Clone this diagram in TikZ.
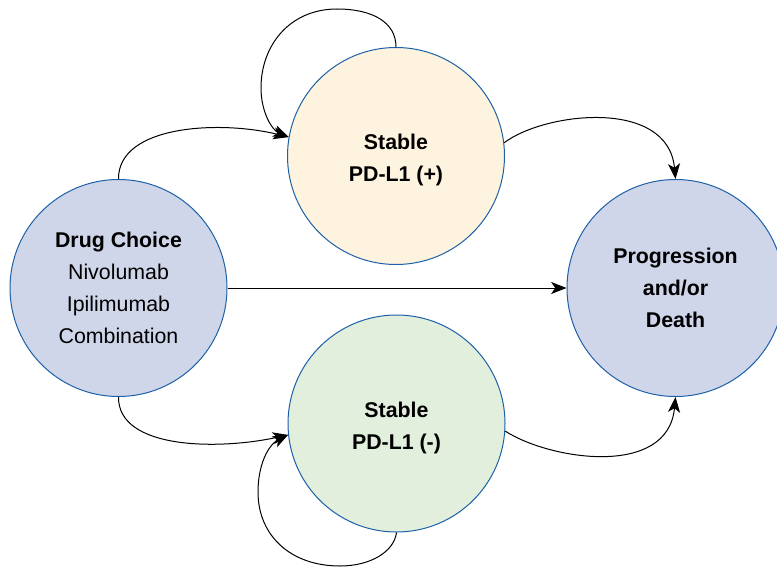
\documentclass[tikz,border=0pt]{standalone}
\usepackage{fontspec}
\setmainfont{Liberation Sans}
\usetikzlibrary{arrows.meta}
\definecolor{rim}{RGB}{28,96,168}
\definecolor{bluefill}{RGB}{208,214,233}
\definecolor{creamfill}{RGB}{254,243,222}
\definecolor{greenfill}{RGB}{226,239,220}

\begin{document}
\begin{tikzpicture}[x=0.75pt,y=-0.75pt,line width=0.75pt,
    >={Stealth[length=11.5pt,width=9pt,inset=3pt]}]
    \tikzstyle{state}=[circle,draw=rim,minimum size=162.75pt,inner sep=0pt,
        align=center,font=\fontsize{16}{24}\selectfont]
    \tikzstyle{start state}=[state, fill=bluefill];
    \tikzstyle{plus state}=[state, fill=creamfill];
    \tikzstyle{minus state}=[state, fill=greenfill];
    \tikzstyle{end state}=[state, fill=bluefill];
    \tikzstyle{move}=[->,draw=black]

    \useasboundingbox (0,0) rectangle (777,567);

    % Draw the states
    \node[start state] (D) at (118.5,288) {\textbf{Drug Choice}\\Nivolumab\\Ipilimumab\\Combination};
    \node[plus state] (Sp) at (396,156) {\rule{0pt}{18pt}\textbf{Stable}\\\textbf{PD-L1 (+)}};
    \node[minus state] (Sm) at (396.5,423.5) {\rule{0pt}{18pt}\textbf{Stable}\\\textbf{PD-L1 (-)}};
    \node[end state] (P) at (675.5,288) {\textbf{Progression}\\\textbf{and/or}\\\textbf{Death}};

    % Drug choice to the stable states
    \draw[move] (D.north) .. controls (118,125) and (220,120) .. (Sp.170);
    \draw[move] (D.south) .. controls (118,450) and (220,450) .. (Sm.186);
    \path[move] (D) edge (P);

    % Staying stable
    \draw[move] (Sp.north) .. controls (396,22) and (372,9) .. (337,9)
        .. controls (290,9) and (261,45) .. (261,88)
        .. controls (261,112) and (272,130) .. (Sp.170);
    \draw[move] (Sm.south) .. controls (394,552) and (370,566) .. (340,566)
        .. controls (290,566) and (258,535) .. (258,492)
        .. controls (258,465) and (268,445) .. (Sm.186);

    % Stable states to progression
    \draw[move] (Sp.7) .. controls (545,112) and (668,98) .. (P.north);
    \draw[move] (Sm.-4) .. controls (550,460) and (668,478) .. (P.south);
\end{tikzpicture}
\end{document}
